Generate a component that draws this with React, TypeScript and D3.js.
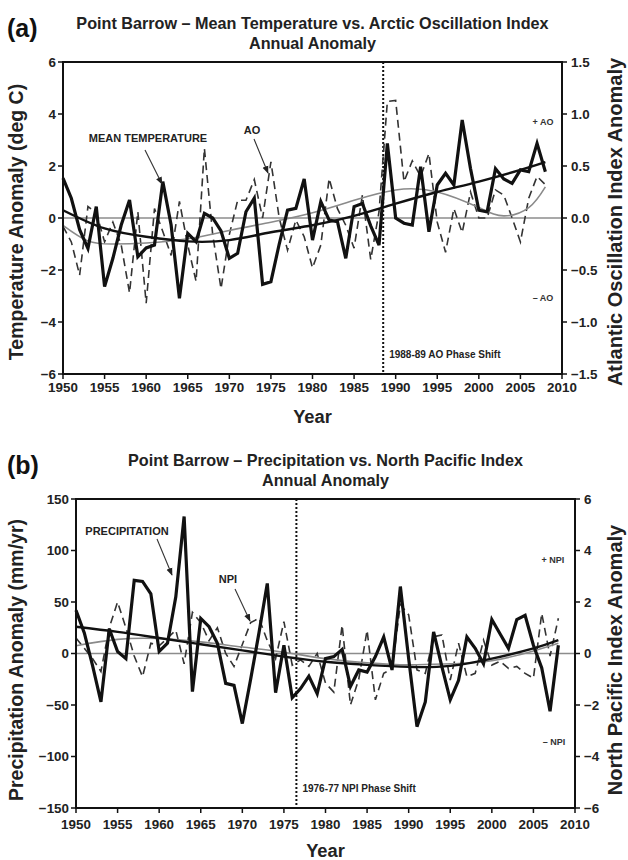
import React from "react";
import * as d3 from "d3";

// ---------- DATA ----------
const years = [
  1950, 1951, 1952, 1953, 1954, 1955, 1956, 1957, 1958, 1959,
  1960, 1961, 1962, 1963, 1964, 1965, 1966, 1967, 1968, 1969,
  1970, 1971, 1972, 1973, 1974, 1975, 1976, 1977, 1978, 1979,
  1980, 1981, 1982, 1983, 1984, 1985, 1986, 1987, 1988, 1989,
  1990, 1991, 1992, 1993, 1994, 1995, 1996, 1997, 1998, 1999,
  2000, 2001, 2002, 2003, 2004, 2005, 2006, 2007, 2008,
];

// Panel (a) mean temperature anomaly (deg C)
const tempAnomaly = [
  1.53, 0.76, -0.45, -1.17, 0.44, -2.64, -1.55, -0.27, 0.69, -1.49,
  -1.15, -1.04, 1.4, -0.27, -3.09, -0.59, -0.91, 0.18, 0.0, -0.5,
  -1.55, -1.36, 0.24, 0.76, -2.55, -2.45, -1.0, 0.3, 0.37, 1.5,
  -0.85, 0.63, -0.08, -0.14, -1.55, 0.44, 0.56, -0.3, -1.04, 2.87,
  0.0, -0.2, -0.27, 1.97, -0.53, 1.27, 1.72, 1.27, 3.77, 1.9,
  0.3, 0.24, 1.9, 1.5, 1.33, 1.85, 1.78, 2.87, 1.78,
];

// Panel (a) Arctic Oscillation index anomaly
const aoIndex = [
  -0.08, -0.23, -0.55, 0.11, 0.05, -0.23, -0.04, -0.26, -0.72, 0.06,
  -0.82, 0.09, -0.13, -0.36, 0.16, -0.26, -0.61, 0.67, -0.16, -0.68,
  -0.16, 0.17, 0.17, 0.37, 0.0, 0.54, 0.0, -0.31, -0.02, -0.18,
  -0.48, -0.26, 0.38, 0.09, -0.07, -0.29, 0.22, -0.4, 0.06, 1.12,
  1.13, 0.35, 0.55, 0.4, 0.62, -0.04, -0.33, 0.09, -0.14, 0.25,
  0.0, 0.0, 0.27, 0.22, 0.0, -0.23, 0.19, 0.4, 0.32,
];

// Panel (a) trend curves
const tempTrendYears = [1950, 1955, 1960, 1965, 1970, 1975, 1980, 1985, 1990, 1995, 2000, 2005, 2008];
const tempTrendValues = [0.3, -0.4, -0.72, -0.9, -0.85, -0.55, -0.28, 0.08, 0.55, 1.0, 1.4, 1.85, 2.15];
const aoTrendYears = [1950, 1953, 1956, 1960, 1965, 1970, 1975, 1980, 1985, 1990, 1995, 2000, 2003, 2006, 2008];
const aoTrendValues = [-0.07, -0.22, -0.25, -0.24, -0.2, -0.12, -0.04, 0.05, 0.17, 0.27, 0.25, 0.1, 0.02, 0.1, 0.3];

// Panel (b) precipitation anomaly (mm/yr)
const precipAnomaly = [
  42, 20, -12, -47, 24, 2, -5, 71, 70, 58,
  2, 10, 55, 133, -37, 34, 26, 10, -29, -31,
  -68, -25, 20, 68, -38, 8, -43, -34, -22, -39,
  -5, -3, 4, -32, -16, -18, -3, 16, -16, 65,
  -5, -71, -47, 21, -13, -45, -26, 16, 5, -10,
  33, 19, 5, 33, 37, 8, -14, -56, 8,
];

// Panel (b) North Pacific index anomaly
const npiIndex = [
  0.6, 0.2, -0.2, -0.7, 1.0, 2.0, 1.0, -0.1, -0.9, 0.4,
  0.3, 0.6, 0.9, -0.4, 1.6, 1.2, 0.5, 1.0, 0.0, -0.5,
  0.35, 1.2, 1.37, 0.5, -0.2, 1.24, -0.45, -0.25, -0.5, 0.0,
  -1.15, -1.5, 1.1, -2.0, -1.0, 0.9, -1.8, -0.77, -0.6, 1.9,
  1.5, -0.64, -0.77, 0.65, 0.72, -1.03, 0.4, -0.9, -0.77, 0.52,
  -0.45, -0.3, -0.58, -0.5, -0.77, -0.96, 1.56, -0.1, 1.37,
];

// Panel (b) trend curves
const precipTrendYears = [1950, 1955, 1960, 1965, 1970, 1975, 1980, 1985, 1990, 1995, 2000, 2005, 2008];
const precipTrendValues = [26, 21, 15, 9, 3, -3, -8, -11, -13, -12, -5, 5, 13];
const npiTrendYears = [1950, 1955, 1960, 1965, 1970, 1975, 1980, 1985, 1990, 1995, 2000, 2005, 2008];
const npiTrendValues = [0.3, 0.55, 0.58, 0.45, 0.25, 0.05, -0.2, -0.36, -0.44, -0.4, -0.28, 0.1, 0.4];

const yearTicks = [1950, 1955, 1960, 1965, 1970, 1975, 1980, 1985, 1990, 1995, 2000, 2005, 2010];
const tempTicks = [-6, -4, -2, 0, 2, 4, 6];
const aoTicks = [-1.5, -1.0, -0.5, 0.0, 0.5, 1.0, 1.5];
const precipTicks = [-150, -100, -50, 0, 50, 100, 150];
const npiTicks = [-6, -4, -2, 0, 2, 4, 6];

// ---------- DRAWING ----------
const FONT = "'Liberation Sans', Arial, Helvetica, sans-serif";

type PanelProps = {
  letter: string;
  title1: string;
  title2: string;
  left: number;
  right: number;
  top: number;
  bottom: number;
  leftDomain: [number, number];
  rightDomain: [number, number];
  leftTicks: number[];
  rightTicks: number[];
  leftFmt: (v: number) => string;
  rightFmt: (v: number) => string;
  leftTitle: string;
  rightTitle: string;
  axisTitleY: number;
  mainValues: number[];
  indexValues: number[];
  mainTrendX: number[];
  mainTrendY: number[];
  idxTrendX: number[];
  idxTrendY: number[];
  shiftYear: number;
  shiftLabel: string;
  mainLabel: string;
  mainLabelPos: [number, number];
  mainArrow: [number, number, number, number];
  idxLabel: string;
  idxLabelPos: [number, number];
  idxArrow: [number, number, number, number];
  plusLabel: string;
  minusLabel: string;
  plusPos: [number, number];
  minusPos: [number, number];
  titleY: number;
  yearLabelY: number;
  yearTitleY: number;
};

function Arrow({ a, id }: { a: [number, number, number, number]; id: string }) {
  const [x1, y1, x2, y2] = a;
  return (
    <line x1={x1} y1={y1} x2={x2} y2={y2} stroke="#333" strokeWidth={1.1} markerEnd={`url(#${id})`} />
  );
}

function Panel(p: PanelProps) {
  const x = d3.scaleLinear().domain([1950, 2010]).range([p.left, p.right]);
  const yL = d3.scaleLinear().domain(p.leftDomain).range([p.bottom, p.top]);
  const yR = d3.scaleLinear().domain(p.rightDomain).range([p.bottom, p.top]);

  const mainLine = d3
    .line<number>()
    .x((_, i) => x(years[i]))
    .y((d) => yL(d))(p.mainValues) as string;
  const idxLine = d3
    .line<number>()
    .x((_, i) => x(years[i]))
    .y((d) => yR(d))(p.indexValues) as string;
  const mainTrend = d3
    .line<number>()
    .x((_, i) => x(p.mainTrendX[i]))
    .y((d) => yL(d))
    .curve(d3.curveNatural)(p.mainTrendY) as string;
  const idxTrend = d3
    .line<number>()
    .x((_, i) => x(p.idxTrendX[i]))
    .y((d) => yR(d))
    .curve(d3.curveNatural)(p.idxTrendY) as string;

  const cx = (p.left + p.right) / 2;
  const xs = x(p.shiftYear);

  return (
    <g fontFamily={FONT}>
      <text x={7} y={p.titleY + 13.5} fontSize={25} fontWeight="bold" fill="#111">
        {p.letter}
      </text>
      <text x={cx} y={p.titleY + 6} fontSize={16.2} fontWeight="bold" textAnchor="middle" fill="#222">
        {p.title1}
      </text>
      <text x={cx} y={p.titleY + 26} fontSize={16.2} fontWeight="bold" textAnchor="middle" fill="#222">
        {p.title2}
      </text>

      {/* zero line */}
      <line x1={p.left} x2={p.right} y1={yL(0)} y2={yL(0)} stroke="#8c8c8c" strokeWidth={1.6} />

      {/* phase shift line */}
      <line x1={xs} x2={xs} y1={p.top} y2={p.bottom} stroke="#111" strokeWidth={2} strokeDasharray="2,2" />
      <text x={xs + 6} y={p.bottom - 16} fontSize={10} fontWeight="bold" fill="#222">
        {p.shiftLabel}
      </text>

      {/* index series (dashed) */}
      <path d={idxLine} fill="none" stroke="#333" strokeWidth={1.6} strokeDasharray="8,5" />
      {/* trends */}
      <path d={idxTrend} fill="none" stroke="#8a8a8a" strokeWidth={1.6} />
      <path d={mainTrend} fill="none" stroke="#111" strokeWidth={2.4} />
      {/* main series */}
      <path d={mainLine} fill="none" stroke="#111" strokeWidth={3.2} strokeLinejoin="miter" />

      {/* annotations */}
      <text x={p.mainLabelPos[0]} y={p.mainLabelPos[1]} fontSize={11} fontWeight="bold" textAnchor="middle" fill="#222">
        {p.mainLabel}
      </text>
      <Arrow a={p.mainArrow} id="arrowhead" />
      <text x={p.idxLabelPos[0]} y={p.idxLabelPos[1]} fontSize={11} fontWeight="bold" textAnchor="middle" fill="#222">
        {p.idxLabel}
      </text>
      <Arrow a={p.idxArrow} id="arrowhead" />
      <text x={p.plusPos[0]} y={p.plusPos[1]} fontSize={9} fontWeight="bold" textAnchor="middle" fill="#333">
        {p.plusLabel}
      </text>
      <text x={p.minusPos[0]} y={p.minusPos[1]} fontSize={9} fontWeight="bold" textAnchor="middle" fill="#333">
        {p.minusLabel}
      </text>

      {/* frame */}
      <rect x={p.left} y={p.top} width={p.right - p.left} height={p.bottom - p.top} fill="none" stroke="#111" strokeWidth={2} />

      {/* x ticks */}
      {yearTicks.map((t) => (
        <g key={"x" + t}>
          <line x1={x(t)} x2={x(t)} y1={p.bottom} y2={p.bottom + 5} stroke="#111" strokeWidth={1.5} />
          <text x={x(t)} y={p.yearLabelY} fontSize={13.4} fontWeight="bold" textAnchor="middle" fill="#222">
            {t}
          </text>
        </g>
      ))}
      {/* left ticks */}
      {p.leftTicks.map((t) => (
        <g key={"l" + t}>
          <line x1={p.left - 5} x2={p.left} y1={yL(t)} y2={yL(t)} stroke="#111" strokeWidth={1.5} />
          <text x={p.left - 7} y={yL(t) + 4.7} fontSize={13.4} fontWeight="bold" textAnchor="end" fill="#222">
            {p.leftFmt(t)}
          </text>
        </g>
      ))}
      {/* right ticks */}
      {p.rightTicks.map((t) => (
        <g key={"r" + t}>
          <line x1={p.right} x2={p.right + 5} y1={yR(t)} y2={yR(t)} stroke="#111" strokeWidth={1.5} />
          <text x={p.right + 9} y={yR(t) + 4.7} fontSize={13.4} fontWeight="bold" textAnchor="start" fill="#222">
            {p.rightFmt(t)}
          </text>
        </g>
      ))}

      {/* axis titles */}
      <text
        transform={`translate(${23},${p.axisTitleY}) rotate(-90)`}
        fontSize={19.5}
        fontWeight="bold"
        textAnchor="middle"
        fill="#222"
      >
        {p.leftTitle}
      </text>
      <text
        transform={`translate(${622},${p.axisTitleY}) rotate(-90)`}
        fontSize={20}
        fontWeight="bold"
        textAnchor="middle"
        fill="#222"
      >
        {p.rightTitle}
      </text>
      <text x={cx} y={p.yearTitleY} fontSize={18.3} fontWeight="bold" textAnchor="middle" fill="#222">
        Year
      </text>
    </g>
  );
}

const fmtInt = (v: number) => d3.format("d")(v);
const fmt1 = (v: number) => d3.format(".1f")(v);

export default function App() {
  return (
    <svg
      width={628}
      height={860}
      viewBox="0 0 628 860"
      style={{ position: "absolute", left: 0, top: 0, background: "#fff" }}
    >
      <defs>
        <marker id="arrowhead" viewBox="0 0 10 10" refX="9" refY="5" markerWidth="7" markerHeight="7" orient="auto">
          <path d="M0,1 L10,5 L0,9 z" fill="#222" />
        </marker>
      </defs>
      <rect x={0} y={0} width={628} height={860} fill="#fff" />
      <Panel
        letter="(a)"
        title1="Point Barrow – Mean Temperature vs. Arctic Oscillation Index"
        title2="Annual Anomaly"
        left={63}
        right={562}
        top={62}
        bottom={374}
        leftDomain={[-6, 6]}
        rightDomain={[-1.5, 1.5]}
        leftTicks={tempTicks}
        rightTicks={aoTicks}
        leftFmt={fmtInt}
        rightFmt={fmt1}
        leftTitle="Temperature Anomaly (deg C)"
        rightTitle="Atlantic Oscillation Index Anomaly"
        axisTitleY={222}
        mainValues={tempAnomaly}
        indexValues={aoIndex}
        mainTrendX={tempTrendYears}
        mainTrendY={tempTrendValues}
        idxTrendX={aoTrendYears}
        idxTrendY={aoTrendValues}
        shiftYear={1988.5}
        shiftLabel="1988-89 AO Phase Shift"
        mainLabel="MEAN TEMPERATURE"
        mainLabelPos={[148, 142]}
        mainArrow={[145, 150, 162, 184]}
        idxLabel="AO"
        idxLabelPos={[252, 134]}
        idxArrow={[254, 139, 268, 173]}
        plusLabel="+ AO"
        minusLabel="– AO"
        plusPos={[543, 125]}
        minusPos={[543, 301]}
        titleY={23}
        yearLabelY={392}
        yearTitleY={423}
      />
      <Panel
        letter="(b)"
        title1="Point Barrow – Precipitation vs. North Pacific Index"
        title2="Annual Anomaly"
        left={76}
        right={575}
        top={499}
        bottom={808}
        leftDomain={[-150, 150]}
        rightDomain={[-6, 6]}
        leftTicks={precipTicks}
        rightTicks={npiTicks}
        leftFmt={fmtInt}
        rightFmt={fmtInt}
        leftTitle="Precipitation Anomaly (mm/yr)"
        rightTitle="North Pacific Index Anomaly"
        axisTitleY={660}
        mainValues={precipAnomaly}
        indexValues={npiIndex}
        mainTrendX={precipTrendYears}
        mainTrendY={precipTrendValues}
        idxTrendX={npiTrendYears}
        idxTrendY={npiTrendValues}
        shiftYear={1976.5}
        shiftLabel="1976-77 NPI Phase Shift"
        mainLabel="PRECIPITATION"
        mainLabelPos={[127, 535]}
        mainArrow={[157, 539, 172, 575]}
        idxLabel="NPI"
        idxLabelPos={[228, 583]}
        idxArrow={[235, 589, 250, 621]}
        plusLabel="+ NPI"
        minusLabel="– NPI"
        plusPos={[553, 563]}
        minusPos={[554, 745]}
        titleY={460}
        yearLabelY={829}
        yearTitleY={857}
      />
    </svg>
  );
}
